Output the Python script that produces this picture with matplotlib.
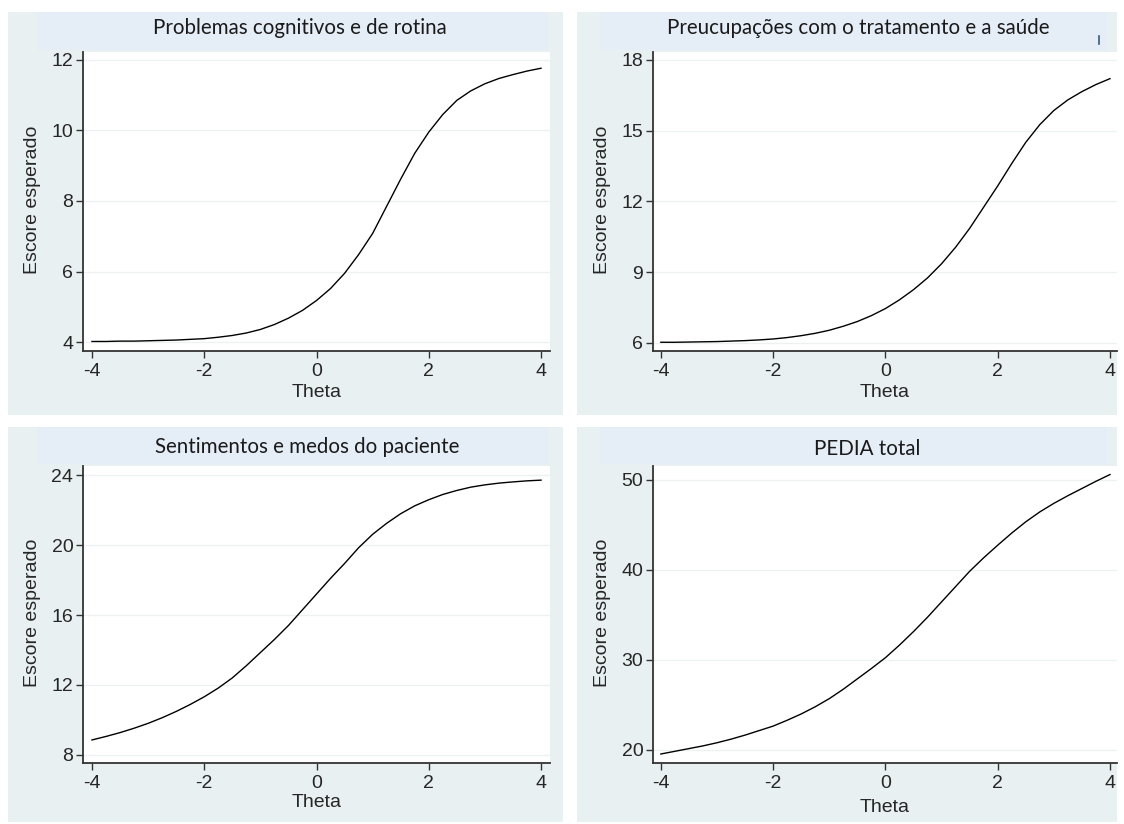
import matplotlib
matplotlib.use("Agg")
import matplotlib.pyplot as plt
from matplotlib.patches import Rectangle
from matplotlib.lines import Line2D

W, H = 1124, 824

THETA = [-4.0, -3.75, -3.5, -3.25, -3.0, -2.75, -2.5, -2.25, -2.0, -1.75, -1.5,
         -1.25, -1.0, -0.75, -0.5, -0.25, 0.0, 0.25, 0.5, 0.75, 1.0, 1.25, 1.5,
         1.75, 2.0, 2.25, 2.5, 2.75, 3.0, 3.25, 3.5, 3.75, 4.0]

cognitivos = [4.02, 4.02, 4.03, 4.03, 4.04, 4.05, 4.06, 4.08, 4.10, 4.14, 4.19,
              4.26, 4.36, 4.50, 4.68, 4.90, 5.18, 5.52, 5.95, 6.48, 7.08, 7.85,
              8.62, 9.35, 9.95, 10.45, 10.85, 11.12, 11.32, 11.47, 11.58, 11.68, 11.76]

tratamento = [6.02, 6.02, 6.03, 6.04, 6.05, 6.07, 6.09, 6.12, 6.16, 6.22, 6.30,
              6.40, 6.53, 6.70, 6.90, 7.15, 7.45, 7.82, 8.25, 8.75, 9.35, 10.05,
              10.85, 11.75, 12.65, 13.6, 14.5, 15.25, 15.85, 16.3, 16.65, 16.95, 17.2]

sentimentos = [8.85, 9.05, 9.27, 9.52, 9.80, 10.12, 10.48, 10.88, 11.32, 11.82, 12.4,
               13.1, 13.85, 14.6, 15.4, 16.3, 17.2, 18.1, 18.95, 19.85, 20.62, 21.25,
               21.8, 22.25, 22.6, 22.9, 23.13, 23.32, 23.45, 23.55, 23.62, 23.68, 23.72]

pedia_total = [19.5, 19.8, 20.1, 20.4, 20.75, 21.15, 21.6, 22.1, 22.6, 23.25, 23.95,
               24.75, 25.65, 26.7, 27.85, 29.0, 30.2, 31.6, 33.1, 34.7, 36.4, 38.1,
               39.8, 41.3, 42.7, 44.05, 45.3, 46.4, 47.35, 48.2, 49.0, 49.8, 50.55]

titles = ["Problemas cognitivos e de rotina",
          "Preucupações com o tratamento e a saúde",
          "Sentimentos e medos do paciente",
          "PEDIA total"]
yticks = [[4, 6, 8, 10, 12], [6, 9, 12, 15, 18], [8, 12, 16, 20, 24], [20, 30, 40, 50]]
xticks = [-4, -2, 0, 2, 4]

PANEL_BG = "#e9f0f2"
TITLE_BG = "#e5edf7"
TXT = "#262626"


def fig_rect(fig, x0, y0, x1, y1, color):
    # pixel box (top-left origin) -> figure rectangle
    r = Rectangle((x0 / W, 1 - y1 / H), (x1 - x0) / W, (y1 - y0) / H,
                  transform=fig.transFigure, facecolor=color, edgecolor="none", zorder=0)
    fig.add_artist(r)


def px_axes(fig, left, top, right, bottom):
    return fig.add_axes([left / W, 1 - bottom / H, (right - left) / W, (bottom - top) / H])


fig = plt.figure(figsize=(W / 100, H / 100), dpi=100, facecolor="white")

# panel box, axes box, title band, title centre, limits, theta label offset
panels = [
    dict(box=(8, 12, 563, 415), ax=(83, 52, 550, 351), band=(37, 12, 548, 50),
         tpos=(300, 28), ylim=(3.75, 12.22), xlim=(-4.16, 4.16), xl=-0.140, series=cognitivos),
    dict(box=(577, 12, 1117, 415), ax=(653, 52, 1117, 351), band=(600, 12, 1107, 50),
         tpos=(858, 28), ylim=(5.65, 18.33), xlim=(-4.14, 4.125), xl=-0.140, series=tratamento),
    dict(box=(8, 427, 563, 822), ax=(83, 466, 550, 763), band=(37, 427, 548, 464),
         tpos=(307, 447), ylim=(7.53, 24.53), xlim=(-4.16, 4.16), xl=-0.132, series=sentimentos),
    dict(box=(577, 427, 1117, 822), ax=(653, 466, 1117, 763), band=(600, 427, 1107, 464),
         tpos=(867, 449), ylim=(18.5, 51.5), xlim=(-4.14, 4.125), xl=-0.150, series=pedia_total),
]

for i, p in enumerate(panels):
    fig_rect(fig, *p["box"], PANEL_BG)
    fig_rect(fig, *p["band"], TITLE_BG)
    fig.text(p["tpos"][0] / W, 1 - p["tpos"][1] / H, titles[i], ha="center", va="center",
             fontsize=14.8, family="Lato", color="#1a1a1a")

    ax = px_axes(fig, *p["ax"])
    ax.set_facecolor("white")
    ax.plot(THETA, p["series"], color="black", lw=1.0, zorder=3)
    ax.set_xlim(*p["xlim"])
    ax.set_ylim(*p["ylim"])
    ax.set_xticks(xticks)
    ax.set_yticks(yticks[i])
    ax.set_xticklabels([str(t) for t in xticks])
    ax.set_yticklabels([str(t) for t in yticks[i]])
    for s in ["top", "right"]:
        ax.spines[s].set_visible(False)
    for s in ["left", "bottom"]:
        ax.spines[s].set_color("#333333")
        ax.spines[s].set_linewidth(1.3)
    ax.grid(axis="y", color="#eef1f1", lw=1.0)
    ax.set_axisbelow(True)
    ax.tick_params(axis="both", direction="out", length=5, width=1.0, color="#333333",
                   labelsize=14, labelcolor=TXT)
    ax.tick_params(axis="x", pad=4)
    ax.tick_params(axis="y", pad=2)
    for lab in ax.get_xticklabels() + ax.get_yticklabels():
        lab.set_family(["Liberation Sans", "DejaVu Sans"])
    ax.set_ylabel("Escore esperado", fontsize=14, color=TXT, family=["Liberation Sans"])
    ax.set_xlabel("Theta", fontsize=14, color=TXT, family=["Liberation Sans"])
    ax.yaxis.set_label_coords(-0.109, 0.505)
    ax.xaxis.set_label_coords(0.5, p["xl"])
    ax.xaxis.label.set_va("center")
    ax.yaxis.label.set_va("center")

# small stray mark next to the second title
fig.add_artist(Line2D([1099 / W, 1099 / W], [1 - 36 / H, 1 - 44 / H],
                      transform=fig.transFigure, color="#3a5a80", lw=1.2))

fig.savefig("out.png", dpi=100, facecolor="white")
